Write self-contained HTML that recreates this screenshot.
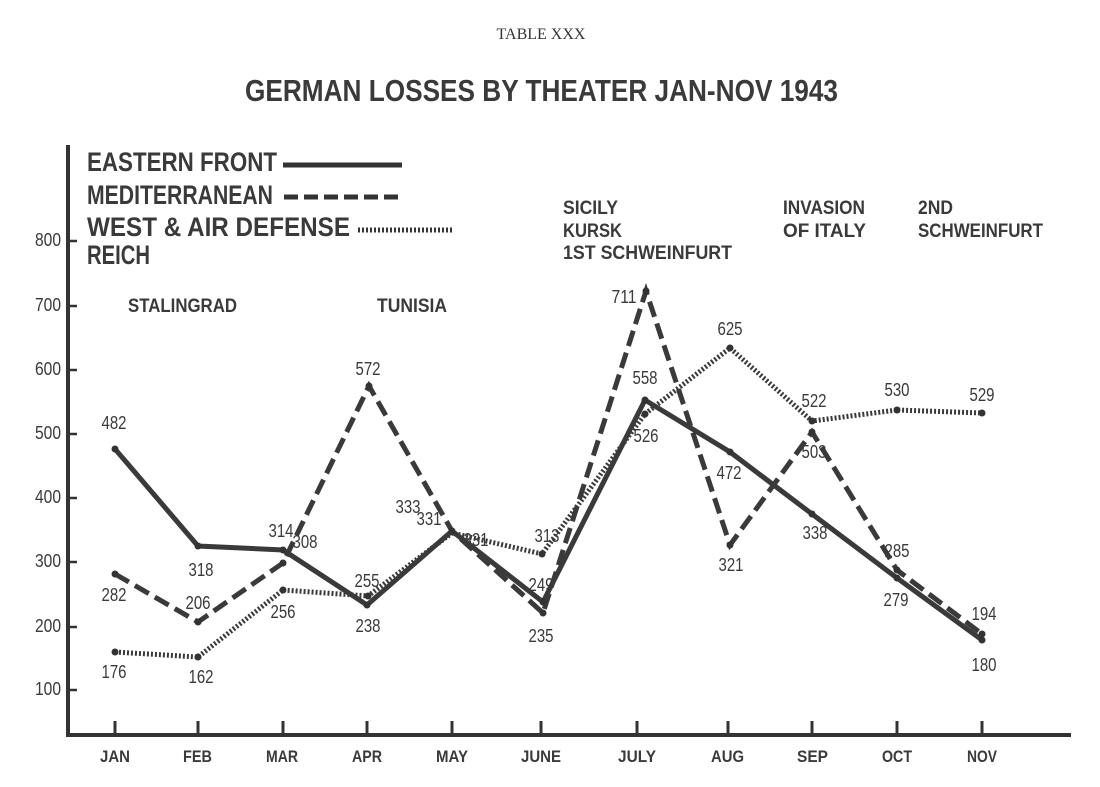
<!DOCTYPE html>
<html><head><meta charset="utf-8"><style>
html,body{margin:0;padding:0;background:#fff;}
svg{display:block;}
text{font-family:"Liberation Sans",sans-serif;fill:#3a3a3a;}
.b{font-weight:bold;}
</style></head><body>
<svg width="1100" height="787" viewBox="0 0 1100 787" xmlns="http://www.w3.org/2000/svg">
<text x="541" y="39" text-anchor="middle" style="font-family:'Liberation Serif',serif;font-size:16px;fill:#333">TABLE XXX</text>
<text x="245" y="101" class="b" font-size="31" textLength="593" lengthAdjust="spacingAndGlyphs">GERMAN LOSSES BY THEATER JAN-NOV 1943</text>
<g stroke="#333" stroke-width="4" fill="none">
<line x1="68" y1="145" x2="68" y2="737"/>
<line x1="66" y1="735" x2="1071" y2="735"/>
</g>
<g stroke="#333" stroke-width="2.5">
<line x1="68" y1="241" x2="77" y2="241"/><line x1="68" y1="306" x2="77" y2="306"/>
<line x1="68" y1="370" x2="77" y2="370"/><line x1="68" y1="434" x2="77" y2="434"/>
<line x1="68" y1="498" x2="77" y2="498"/><line x1="68" y1="562" x2="77" y2="562"/>
<line x1="68" y1="627" x2="77" y2="627"/><line x1="68" y1="690" x2="77" y2="690"/>
</g>
<g stroke="#333" stroke-width="3">
<line x1="115" y1="735" x2="115" y2="721"/><line x1="198" y1="735" x2="198" y2="721"/>
<line x1="283" y1="735" x2="283" y2="721"/><line x1="367" y1="735" x2="367" y2="721"/>
<line x1="452" y1="735" x2="452" y2="721"/><line x1="541" y1="735" x2="541" y2="721"/>
<line x1="637" y1="735" x2="637" y2="721"/><line x1="728" y1="735" x2="728" y2="721"/>
<line x1="812" y1="735" x2="812" y2="721"/><line x1="897" y1="735" x2="897" y2="721"/>
<line x1="982" y1="735" x2="982" y2="721"/>
</g>
<g class="b" font-size="17">
<text x="100" y="762" textLength="30" lengthAdjust="spacingAndGlyphs">JAN</text>
<text x="183" y="762" textLength="29" lengthAdjust="spacingAndGlyphs">FEB</text>
<text x="266" y="762" textLength="32" lengthAdjust="spacingAndGlyphs">MAR</text>
<text x="352" y="762" textLength="30" lengthAdjust="spacingAndGlyphs">APR</text>
<text x="436" y="762" textLength="32" lengthAdjust="spacingAndGlyphs">MAY</text>
<text x="521" y="762" textLength="40" lengthAdjust="spacingAndGlyphs">JUNE</text>
<text x="618" y="762" textLength="38" lengthAdjust="spacingAndGlyphs">JULY</text>
<text x="711" y="762" textLength="33" lengthAdjust="spacingAndGlyphs">AUG</text>
<text x="797" y="762" textLength="31" lengthAdjust="spacingAndGlyphs">SEP</text>
<text x="882" y="762" textLength="30" lengthAdjust="spacingAndGlyphs">OCT</text>
<text x="967" y="762" textLength="30" lengthAdjust="spacingAndGlyphs">NOV</text>
</g>
<g font-size="18">
<text x="35" y="246" textLength="26" lengthAdjust="spacingAndGlyphs">800</text>
<text x="35" y="311" textLength="26" lengthAdjust="spacingAndGlyphs">700</text>
<text x="35" y="375" textLength="26" lengthAdjust="spacingAndGlyphs">600</text>
<text x="35" y="439" textLength="26" lengthAdjust="spacingAndGlyphs">500</text>
<text x="35" y="503" textLength="26" lengthAdjust="spacingAndGlyphs">400</text>
<text x="35" y="567" textLength="26" lengthAdjust="spacingAndGlyphs">300</text>
<text x="35" y="632" textLength="26" lengthAdjust="spacingAndGlyphs">200</text>
<text x="35" y="695" textLength="26" lengthAdjust="spacingAndGlyphs">100</text>
</g>
<g class="b" font-size="27">
<text x="87" y="171" textLength="190" lengthAdjust="spacingAndGlyphs">EASTERN FRONT</text>
<text x="87" y="204" textLength="186" lengthAdjust="spacingAndGlyphs">MEDITERRANEAN</text>
<text x="87" y="236" textLength="263" lengthAdjust="spacingAndGlyphs">WEST &amp; AIR DEFENSE</text>
<text x="87" y="264" textLength="63" lengthAdjust="spacingAndGlyphs">REICH</text>
</g>
<line x1="283" y1="165" x2="402" y2="165" stroke="#333" stroke-width="5"/>
<line x1="284" y1="197" x2="402" y2="197" stroke="#333" stroke-width="5" stroke-dasharray="14,6"/>
<line x1="358" y1="230" x2="452" y2="230" stroke="#333" stroke-width="5" stroke-dasharray="2,2"/>
<g class="b" font-size="19">
<text x="128" y="312" textLength="109" lengthAdjust="spacingAndGlyphs">STALINGRAD</text>
<text x="377" y="312" textLength="70" lengthAdjust="spacingAndGlyphs">TUNISIA</text>
<text x="563" y="214" textLength="55" lengthAdjust="spacingAndGlyphs">SICILY</text>
<text x="563" y="237" textLength="59" lengthAdjust="spacingAndGlyphs">KURSK</text>
<text x="563" y="259" textLength="169" lengthAdjust="spacingAndGlyphs">1ST SCHWEINFURT</text>
<text x="783" y="214" textLength="82" lengthAdjust="spacingAndGlyphs">INVASION</text>
<text x="783" y="237" textLength="83" lengthAdjust="spacingAndGlyphs">OF ITALY</text>
<text x="918" y="214" textLength="35" lengthAdjust="spacingAndGlyphs">2ND</text>
<text x="918" y="237" textLength="125" lengthAdjust="spacingAndGlyphs">SCHWEINFURT</text>
</g>
<g fill="none" stroke="#3a3a3a" stroke-width="5">
<polyline points="115,449 198,546 283,550 367,605 452,531 543,602 645,400 730,452 812,514 897,578 982,640"/>
<polyline stroke-dasharray="16,7" points="115,574 198,622 283,563 369,386 452,531 543,613 646,291 730,545 812,432 897,570 982,634"/>
<polyline stroke-dasharray="2,2" points="115,652 198,657 283,590 368,596 452,533 542,554 645,414 730,348 812,421 897,410 982,413"/>
</g>
<g fill="#333">
<circle cx="115" cy="449" r="3.5"/><circle cx="198" cy="546" r="3.5"/><circle cx="283" cy="550" r="3.5"/>
<circle cx="367" cy="605" r="3.5"/><circle cx="452" cy="531" r="3.5"/><circle cx="543" cy="602" r="3.5"/>
<circle cx="645" cy="400" r="3.5"/><circle cx="730" cy="452" r="3.5"/><circle cx="812" cy="514" r="3.5"/>
<circle cx="897" cy="578" r="3.5"/><circle cx="982" cy="640" r="3.5"/>
<circle cx="115" cy="574" r="3.5"/><circle cx="198" cy="622" r="3.5"/><circle cx="283" cy="563" r="3.5"/>
<circle cx="369" cy="386" r="3.5"/><circle cx="543" cy="613" r="3.5"/><circle cx="646" cy="291" r="3.5"/>
<circle cx="730" cy="545" r="3.5"/><circle cx="812" cy="432" r="3.5"/><circle cx="897" cy="570" r="3.5"/><circle cx="982" cy="634" r="3.5"/>
<circle cx="115" cy="652" r="3.5"/><circle cx="198" cy="657" r="3.5"/><circle cx="283" cy="590" r="3.5"/>
<circle cx="368" cy="596" r="3.5"/><circle cx="542" cy="554" r="3.5"/><circle cx="645" cy="414" r="3.5"/>
<circle cx="730" cy="348" r="3.5"/><circle cx="812" cy="421" r="3.5"/><circle cx="897" cy="410" r="3.5"/><circle cx="982" cy="413" r="3.5"/>
</g>
<g font-size="18" text-anchor="middle">
<text x="114" y="429" textLength="25" lengthAdjust="spacingAndGlyphs">482</text>
<text x="201" y="576" textLength="25" lengthAdjust="spacingAndGlyphs">318</text>
<text x="281" y="537" textLength="25" lengthAdjust="spacingAndGlyphs">314</text>
<text x="368" y="632" textLength="25" lengthAdjust="spacingAndGlyphs">238</text>
<text x="645" y="384" textLength="25" lengthAdjust="spacingAndGlyphs">558</text>
<text x="729" y="479" textLength="25" lengthAdjust="spacingAndGlyphs">472</text>
<text x="815" y="539" textLength="25" lengthAdjust="spacingAndGlyphs">338</text>
<text x="896" y="606" textLength="25" lengthAdjust="spacingAndGlyphs">279</text>
<text x="984" y="671" textLength="25" lengthAdjust="spacingAndGlyphs">180</text>
<text x="114" y="601" textLength="25" lengthAdjust="spacingAndGlyphs">282</text>
<text x="198" y="609" textLength="25" lengthAdjust="spacingAndGlyphs">206</text>
<text x="305" y="548" textLength="25" lengthAdjust="spacingAndGlyphs">308</text>
<text x="368" y="375" textLength="25" lengthAdjust="spacingAndGlyphs">572</text>
<text x="408" y="513" textLength="25" lengthAdjust="spacingAndGlyphs">333</text>
<text x="541" y="642" textLength="25" lengthAdjust="spacingAndGlyphs">235</text>
<text x="624" y="303" textLength="25" lengthAdjust="spacingAndGlyphs">711</text>
<text x="731" y="571" textLength="25" lengthAdjust="spacingAndGlyphs">321</text>
<text x="814" y="458" textLength="25" lengthAdjust="spacingAndGlyphs">503</text>
<text x="897" y="557" textLength="25" lengthAdjust="spacingAndGlyphs">285</text>
<text x="984" y="620" textLength="25" lengthAdjust="spacingAndGlyphs">194</text>
<text x="114" y="678" textLength="25" lengthAdjust="spacingAndGlyphs">176</text>
<text x="201" y="683" textLength="25" lengthAdjust="spacingAndGlyphs">162</text>
<text x="283" y="618" textLength="25" lengthAdjust="spacingAndGlyphs">256</text>
<text x="367" y="587" textLength="25" lengthAdjust="spacingAndGlyphs">255</text>
<text x="429" y="525" textLength="25" lengthAdjust="spacingAndGlyphs">331</text>
<text x="476" y="546" textLength="25" lengthAdjust="spacingAndGlyphs">331</text>
<text x="547" y="542" textLength="25" lengthAdjust="spacingAndGlyphs">313</text>
<text x="541" y="591" textLength="25" lengthAdjust="spacingAndGlyphs">249</text>
<text x="646" y="442" textLength="25" lengthAdjust="spacingAndGlyphs">526</text>
<text x="730" y="335" textLength="25" lengthAdjust="spacingAndGlyphs">625</text>
<text x="814" y="407" textLength="25" lengthAdjust="spacingAndGlyphs">522</text>
<text x="897" y="396" textLength="25" lengthAdjust="spacingAndGlyphs">530</text>
<text x="982" y="401" textLength="25" lengthAdjust="spacingAndGlyphs">529</text>
</g>
</svg>
</body></html>
